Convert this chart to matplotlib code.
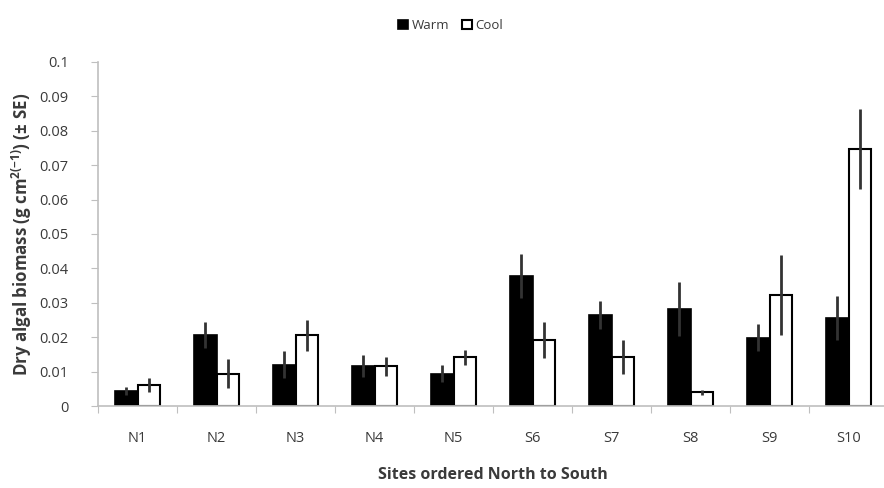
import numpy as np
import matplotlib
matplotlib.use("Agg")
import matplotlib.pyplot as plt
from matplotlib.ticker import FixedLocator, NullFormatter

plt.rcParams['font.family'] = ['Open Sans', 'DejaVu Sans']
plt.rcParams['mathtext.fontset'] = 'custom'
plt.rcParams['mathtext.rm'] = 'Open Sans'
plt.rcParams['mathtext.bf'] = 'Open Sans:bold'

sites = ["N1", "N2", "N3", "N4", "N5", "S6", "S7", "S8", "S9", "S10"]
warm = [0.0043, 0.0207, 0.0120, 0.0116, 0.0094, 0.0378, 0.0264, 0.0282, 0.0198, 0.0256]
warm_se = [0.0012, 0.0037, 0.0039, 0.0031, 0.0024, 0.0063, 0.0041, 0.0078, 0.0039, 0.0064]
cool = [0.0060, 0.0094, 0.0205, 0.0115, 0.0142, 0.0192, 0.0142, 0.0040, 0.0322, 0.0747]
cool_se = [0.0020, 0.0042, 0.0044, 0.0027, 0.0022, 0.0052, 0.0049, 0.0008, 0.0116, 0.0115]
yticks = [0, 0.01, 0.02, 0.03, 0.04, 0.05, 0.06, 0.07, 0.08, 0.09, 0.1]
ytick_labels = ["0", "0.01", "0.02", "0.03", "0.04", "0.05", "0.06", "0.07", "0.08", "0.09", "0.1"]

fig = plt.figure(figsize=(8.84, 4.88), dpi=100)
ax = fig.add_axes([0.1109, 0.168, 0.8937, 0.705])

x = np.arange(len(sites))
w = 0.29
err_kw = dict(ecolor='#333333', elinewidth=2, capsize=0)
ax.bar(x - w / 2, warm, w, yerr=warm_se, color='black', edgecolor='black',
       linewidth=1.2, error_kw=err_kw, label='Warm', zorder=2)
ax.bar(x + w / 2, cool, w, yerr=cool_se, color='white', edgecolor='black',
       linewidth=1.5, error_kw=err_kw, label='Cool', zorder=2)

ax.set_xlim(-0.5, len(sites) - 0.5)
ax.set_ylim(0, 0.1)

# excel style: ticks between categories, labels at centres
ax.xaxis.set_major_locator(FixedLocator(np.arange(-0.5, len(sites), 1.0)))
ax.xaxis.set_major_formatter(NullFormatter())
ax.xaxis.set_minor_locator(FixedLocator(x))
ax.set_xticklabels(sites, minor=True)
ax.tick_params(axis='x', which='major', length=5, color='#bfbfbf', direction='out')
ax.tick_params(axis='x', which='minor', length=0, pad=18, labelsize=10.5, labelcolor='#3a3a3a')

ax.set_yticks(yticks)
ax.set_yticklabels(ytick_labels)
ax.tick_params(axis='y', length=5, color='#bfbfbf', direction='out', labelsize=10.5,
               labelcolor='#3a3a3a', pad=16)

for s in ['top', 'right']:
    ax.spines[s].set_visible(False)
for s in ['left', 'bottom']:
    ax.spines[s].set_color('#bfbfbf')
    ax.spines[s].set_linewidth(1.2)

ax.set_xlabel("Sites ordered North to South", fontsize=11.5, fontweight='bold',
              color='#3a3a3a', labelpad=15)
ax.set_ylabel(r"Dry algal biomass (g cm$^{\mathbf{2(-1)}}$) $\mathbf{(\pm\ SE)}$",
              fontsize=12.2, fontweight='bold', color='#3a3a3a', labelpad=4)

fig.legend(loc='center', bbox_to_anchor=(0.51, 0.948), ncol=2, frameon=False,
           fontsize=9.5, handlelength=0.7, handleheight=0.7, handletextpad=0.3,
           columnspacing=1.0, labelcolor='#3a3a3a')

fig.savefig("out.png", dpi=100)
